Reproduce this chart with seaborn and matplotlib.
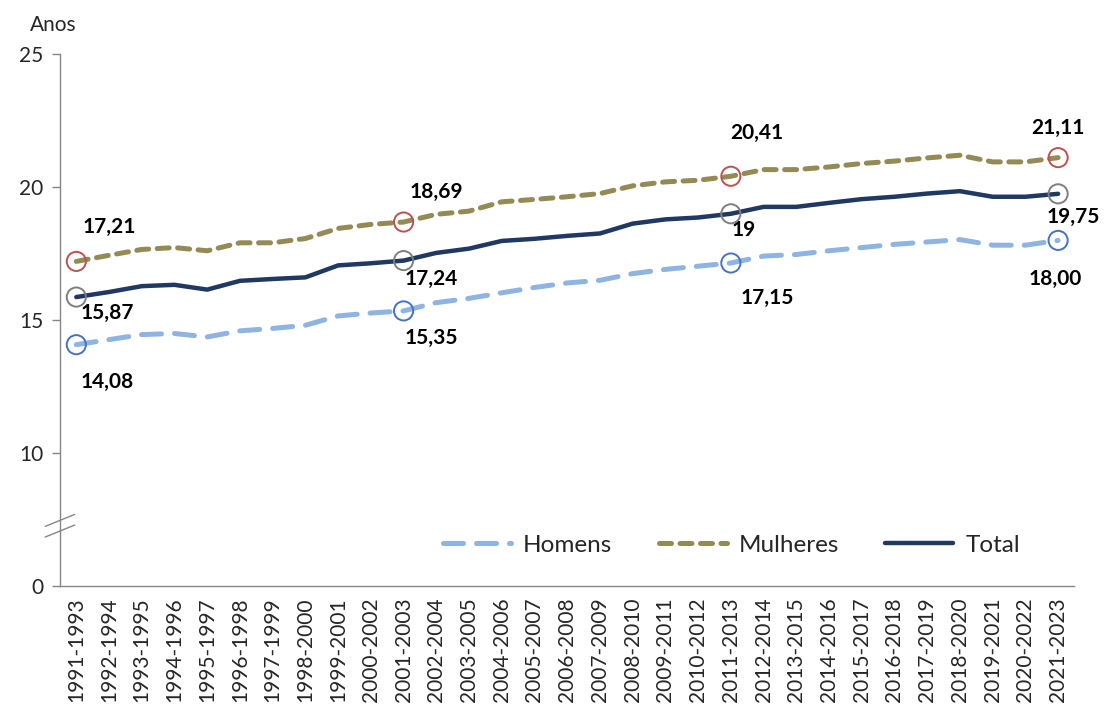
import pandas as pd
import matplotlib.pyplot as plt
import seaborn as sns

# valores (anos)
periods = [f"{y}-{y + 2}" for y in range(1991, 2022)]
homens = [14.08, 14.27, 14.46, 14.50, 14.37, 14.60, 14.69, 14.81, 15.16, 15.27,
          15.35, 15.66, 15.82, 16.03, 16.23, 16.40, 16.50, 16.75, 16.91, 17.03,
          17.15, 17.41, 17.47, 17.61, 17.73, 17.85, 17.94, 18.03, 17.82, 17.82, 18.00]
mulheres = [17.21, 17.44, 17.66, 17.73, 17.61, 17.91, 17.91, 18.07, 18.45, 18.60,
            18.69, 18.98, 19.10, 19.45, 19.54, 19.64, 19.76, 20.05, 20.20, 20.26,
            20.41, 20.66, 20.66, 20.76, 20.89, 20.98, 21.10, 21.20, 20.95, 20.95, 21.11]
total = [15.87, 16.06, 16.28, 16.33, 16.15, 16.48, 16.55, 16.61, 17.06, 17.14,
         17.24, 17.53, 17.69, 17.98, 18.06, 18.17, 18.26, 18.63, 18.79, 18.86,
         19.00, 19.26, 19.26, 19.41, 19.55, 19.64, 19.76, 19.85, 19.64, 19.64, 19.75]
highlight = [0, 10, 20, 30]
labels_homens = ["14,08", "15,35", "17,15", "18,00"]
labels_mulheres = ["17,21", "18,69", "20,41", "21,11"]
labels_total = ["15,87", "17,24", "19", "19,75"]
y_ticks = [5, 10, 15, 20, 25]
y_ticklabels = ["0", "10", "15", "20", "25"]

df = pd.DataFrame({'periodo': periods, 'Homens': homens, 'Mulheres': mulheres, 'Total': total})
x = list(range(len(periods)))

sns.set_style('white')
plt.rcParams['font.family'] = ['Lato', 'DejaVu Sans']

fig = plt.figure(figsize=(11.1, 7.22), dpi=100)
ax = fig.add_axes([0.054, 0.188, 0.914, 0.737])

sns.lineplot(x=x, y=df['Homens'], ax=ax, color='#8db4e2', linewidth=3.6,
             label='Homens', dashes=False)
sns.lineplot(x=x, y=df['Mulheres'], ax=ax, color='#948a54', linewidth=3.6,
             label='Mulheres', dashes=False)
sns.lineplot(x=x, y=df['Total'], ax=ax, color='#1f3864', linewidth=3.2,
             label='Total', dashes=False)
lines = ax.get_lines()
lines[0].set_dashes([4, 2.6])
lines[0].set_dash_capstyle('round')
lines[1].set_dashes([2.4, 1.7])
lines[1].set_dash_capstyle('round')

# pontos destacados
for vals, col in [(homens, '#4472c4'), (mulheres, '#c0504d'), (total, '#7f7f7f')]:
    ax.scatter(highlight, [vals[i] for i in highlight], s=190, facecolors='none',
               edgecolors=col, linewidths=1.4, zorder=5)

lab_kw = dict(fontsize=15, fontweight='bold', color='black', ha='center', va='center')
off_m = [(1, 1.3), (1, 1.12), (0.8, 1.64), (0, 1.12)]
off_t = [(0.95, -0.58), (0.85, -0.7), (0.4, -0.62), (0.45, -0.87)]
off_h = [(0.95, -1.42), (0.85, -1.0), (1.1, -1.3), (-0.1, -1.45)]
for k, i in enumerate(highlight):
    ax.text(i + off_m[k][0], mulheres[i] + off_m[k][1], labels_mulheres[k], **lab_kw)
    ax.text(i + off_t[k][0], total[i] + off_t[k][1], labels_total[k], **lab_kw)
    ax.text(i + off_h[k][0], homens[i] + off_h[k][1], labels_homens[k], **lab_kw)

ax.set_xlim(-0.5, len(periods) - 0.5)
ax.set_ylim(5, 25)
ax.set_yticks(y_ticks)
ax.set_yticklabels(y_ticklabels, fontsize=15)
ax.set_xticks(x)
ax.set_xticklabels(periods, rotation=90, fontsize=15)
ax.set_xticks([i - 0.5 for i in range(len(periods) + 1)], minor=True)
ax.tick_params(axis='x', which='major', length=0, pad=8)
ax.tick_params(axis='x', which='minor', length=6, color='#868686', width=1)
ax.tick_params(axis='y', length=6, color='#868686', width=1, left=True, pad=6)
ax.set_xlabel('')
ax.set_ylabel('')
for s in ['top', 'right']:
    ax.spines[s].set_visible(False)
for s in ['left', 'bottom']:
    ax.spines[s].set_color('#868686')
    ax.spines[s].set_linewidth(1)

# quebra do eixo
for dy in (-0.2, 0.2):
    ax.plot([-0.95, -0.05], [7.05 + dy, 7.5 + dy], color='#868686', lw=1,
            clip_on=False, transform=ax.transData)

fig.text(0.027, 0.965, 'Anos', fontsize=15, ha='left', va='center')

ax.legend(loc='center right', bbox_to_anchor=(0.968, 0.077), ncol=3, frameon=False,
          fontsize=17.5, handlelength=2.8, columnspacing=1.9, handletextpad=0.5)

plt.savefig('out.png', dpi=100)
